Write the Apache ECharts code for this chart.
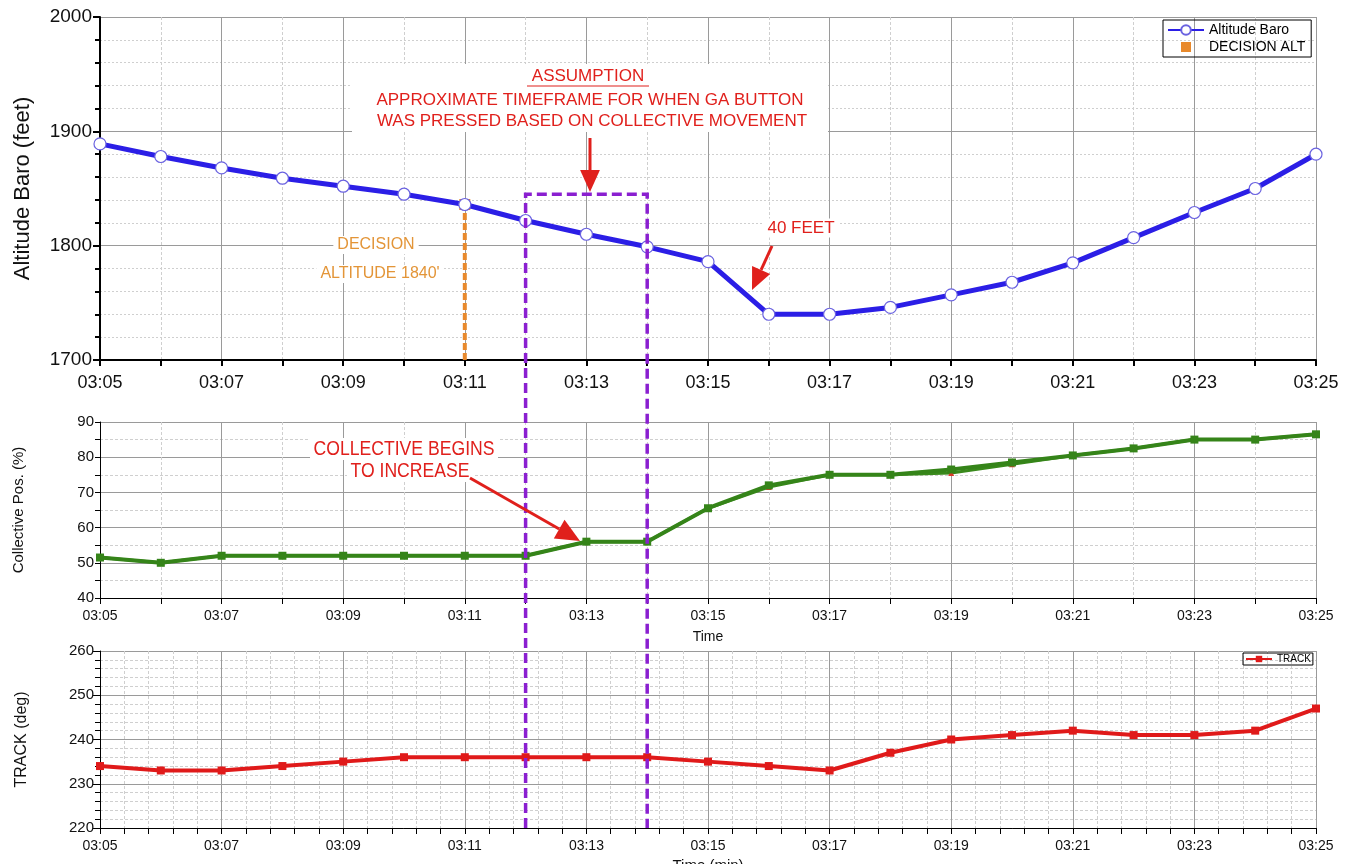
<!DOCTYPE html>
<html>
<head>
<meta charset="utf-8">
<script src="https://cdn.jsdelivr.net/npm/echarts@6/dist/echarts.min.js"></script>
<style>
html, body { margin: 0; background: #fff; }
#main { width: 1360px; height: 864px; }
</style>
</head>
<body>
<div id="main"></div>
<script>
var times = ["03:05", "03:06", "03:07", "03:08", "03:09", "03:10", "03:11", "03:12", "03:13", "03:14",
  "03:15", "03:16", "03:17", "03:18", "03:19", "03:20", "03:21", "03:22", "03:23", "03:24", "03:25"];
var altitude = [1889, 1878, 1868, 1859, 1852, 1845, 1836, 1822, 1810, 1799,
  1786, 1740, 1740, 1746, 1757, 1768, 1785, 1807, 1829, 1850, 1880];
var collective = [51.5, 50, 52, 52, 52, 52, 52, 52, 56, 56,
  65.5, 72, 75, 75, 76.5, 78.5, 80.5, 82.5, 85, 85, 86.5];
var collective2 = [51.5, 50, 52, 52, 52, 52, 52, 52, 56, 56,
  65.5, 71.5, 75, 75, 75.5, 78, 80.5, 82.5, 85, 85, 86.5];
var track = [234, 233, 233, 234, 235, 236, 236, 236, 236, 236,
  235, 234, 233, 237, 240, 241, 242, 241, 241, 242, 247];
var decisionTime = "03:11";
var decisionAlt = 1836;
var decisionBase = 1700;
var gaStart = "03:12";
var gaEnd = "03:14";
var gaTopAlt = 1845;

var FONT = "Liberation Sans, Arial, sans-serif";
var NARROW = "Liberation Sans Narrow, Arial Narrow, Liberation Sans, sans-serif";

function toMin(t) {
  var p = t.split(":");
  return (+p[0]) * 60 + (+p[1]);
}
var t0 = toMin(times[0]);
function xOf(t) { return toMin(t) - t0; }
function fmtTime(v) {
  var m = t0 + v;
  var h = Math.floor(m / 60), mm = m % 60;
  return (h < 10 ? "0" : "") + h + ":" + (mm < 10 ? "0" : "") + mm;
}
function plain(v) { return String(v); }
function pairs(vals) {
  return vals.map(function (v, i) { return [xOf(times[i]), v]; });
}

var chart = echarts.init(document.getElementById("main"));

function xAxisFor(grid, fontSize, font, minorSplit, lineW, margin) {
  return {
    type: "value",
    gridIndex: grid,
    min: 0,
    max: xOf(times[times.length - 1]),
    interval: 2,
    axisLine: { lineStyle: { color: "#000", width: lineW } },
    axisTick: { length: 6, lineStyle: { color: "#000", width: lineW > 1 ? 2 : 1 } },
    minorTick: { show: true, splitNumber: minorSplit, length: 6, lineStyle: { color: "#000", width: lineW > 1 ? 2 : 1 } },
    splitLine: { lineStyle: { color: "#9a9a9a", width: 1 } },
    minorSplitLine: { show: true, lineStyle: { color: "#cfcfcf", type: [3, 2], width: 1 } },
    axisLabel: {
      formatter: fmtTime,
      fontSize: fontSize,
      fontFamily: font,
      color: "#111",
      margin: margin
    }
  };
}

var option = {
  backgroundColor: "#fff",
  animation: false,
  grid: [
    { left: 100, top: 17, width: 1216, height: 343, outerBoundsMode: "none" },
    { left: 100, top: 422, width: 1216, height: 176, outerBoundsMode: "none" },
    { left: 100, top: 651, width: 1216, height: 177, outerBoundsMode: "none" }
  ],
  legend: [
    {
      left: 1163, top: 20,
      orient: "vertical",
      borderColor: "#000", borderWidth: 1,
      padding: [3, 6, 3, 4], itemGap: 3,
      itemWidth: 36, itemHeight: 12,
      textStyle: { fontSize: 14, fontFamily: FONT, color: "#000" },
      data: [
        { name: "Altitude Baro" },
        { name: "DECISION ALT", icon: "path://M0,0h0.01v0.01h-0.01z M13,1h10v10h-10z M35.99,11.99h0.01v0.01h-0.01z" }
      ]
    },
    {
      left: 1243, top: 653,
      borderColor: "#000", borderWidth: 1,
      padding: [1, 2, 1, 2],
      itemWidth: 26, itemHeight: 8,
      textStyle: { fontSize: 10, fontFamily: NARROW, color: "#000" },
      data: ["TRACK"]
    }
  ],
  xAxis: [
    xAxisFor(0, 18, FONT, 2, 2, 14),
    Object.assign(xAxisFor(1, 14, NARROW, 2, 1, 11), {
      name: "Time", nameLocation: "middle", nameGap: 32,
      nameTextStyle: { fontSize: 14, fontFamily: NARROW, color: "#111" }
    }),
    Object.assign(xAxisFor(2, 14, NARROW, 5, 1, 11), {
      name: "Time (min)", nameLocation: "middle", nameGap: 30,
      nameTextStyle: { fontSize: 15, fontFamily: NARROW, color: "#111" }
    })
  ],
  yAxis: [
    {
      type: "value", gridIndex: 0, min: 1700, max: 2000, interval: 100,
      name: "Altitude Baro (feet)", nameLocation: "middle", nameGap: 66,
      nameTextStyle: { fontSize: 22, fontFamily: FONT, color: "#111" },
      axisLine: { show: true, lineStyle: { color: "#000", width: 2 } },
      axisTick: { show: true, length: 7, lineStyle: { color: "#000", width: 2 } },
      minorTick: { show: true, splitNumber: 5, length: 5, lineStyle: { color: "#000", width: 2 } },
      splitLine: { lineStyle: { color: "#9a9a9a" } },
      minorSplitLine: { show: true, lineStyle: { color: "#cfcfcf", type: [2, 2] } },
      axisLabel: { formatter: plain, fontSize: 19, fontFamily: FONT, color: "#111", margin: 8 }
    },
    {
      type: "value", gridIndex: 1, min: 40, max: 90, interval: 10,
      name: "Collective Pos. (%)", nameLocation: "middle", nameGap: 74,
      nameTextStyle: { fontSize: 15, fontFamily: FONT, color: "#111" },
      axisLine: { show: true, lineStyle: { color: "#000" } },
      axisTick: { show: true, length: 5, lineStyle: { color: "#000" } },
      minorTick: { show: true, splitNumber: 2, length: 5, lineStyle: { color: "#000" } },
      splitLine: { lineStyle: { color: "#9a9a9a" } },
      minorSplitLine: { show: true, lineStyle: { color: "#cfcfcf", type: [3, 2] } },
      axisLabel: { formatter: plain, fontSize: 15, fontFamily: NARROW, color: "#111", margin: 6 }
    },
    {
      type: "value", gridIndex: 2, min: 220, max: 260, interval: 10,
      name: "TRACK (deg)", nameLocation: "middle", nameGap: 70,
      nameTextStyle: { fontSize: 16, fontFamily: FONT, color: "#111" },
      axisLine: { show: true, lineStyle: { color: "#000" } },
      axisTick: { show: true, length: 7, lineStyle: { color: "#000" } },
      minorTick: { show: true, splitNumber: 5, length: 5, lineStyle: { color: "#000" } },
      splitLine: { lineStyle: { color: "#9a9a9a" } },
      minorSplitLine: { show: true, lineStyle: { color: "#cfcfcf", type: [3, 2] } },
      axisLabel: { formatter: plain, fontSize: 15, fontFamily: NARROW, color: "#111", margin: 6 }
    }
  ],
  series: [
    {
      name: "DECISION ALT", type: "line", xAxisIndex: 0, yAxisIndex: 0,
      data: [
        { value: [xOf(decisionTime), decisionBase], symbol: "none" },
        { value: [xOf(decisionTime), decisionAlt], symbol: "rect", symbolSize: 11 }
      ],
      lineStyle: { color: "#e8892c", width: 4, type: [7, 3] },
      itemStyle: { color: "#e8892c" },
      z: 3
    },
    {
      name: "Altitude Baro", type: "line", xAxisIndex: 0, yAxisIndex: 0,
      data: pairs(altitude),
      symbol: "circle", symbolSize: 12, showAllSymbol: true,
      lineStyle: { color: "#2b1ee6", width: 5 },
      itemStyle: { color: "#fff", borderColor: "#6a62e0", borderWidth: 1.2 },
      z: 4
    },
    {
      name: "Collective 2", type: "line", xAxisIndex: 1, yAxisIndex: 1,
      data: pairs(collective2),
      symbol: "triangle", symbolSize: 6,
      lineStyle: { color: "#3a8a1c", width: 3 },
      itemStyle: { color: "#d83a2a" },
      z: 3
    },
    {
      name: "Collective Pos", type: "line", xAxisIndex: 1, yAxisIndex: 1,
      data: pairs(collective),
      symbol: "rect", symbolSize: 8,
      lineStyle: { color: "#358419", width: 4 },
      itemStyle: { color: "#358419" },
      z: 4
    },
    {
      name: "TRACK", type: "line", xAxisIndex: 2, yAxisIndex: 2,
      data: pairs(track),
      symbol: "rect", symbolSize: 8,
      lineStyle: { color: "#e01a1a", width: 4 },
      itemStyle: { color: "#e01a1a" },
      z: 4
    }
  ]
};
chart.setOption(option);

// annotations
var RED = "#e0201c";
function arrow(x1, y1, x2, y2, w, head) {
  var a = Math.atan2(y2 - y1, x2 - x1);
  var bx = x2 - head * Math.cos(a), by = y2 - head * Math.sin(a);
  var px = Math.sin(a) * head * 0.45, py = -Math.cos(a) * head * 0.45;
  return [
    { type: "line", z: 20, shape: { x1: x1, y1: y1, x2: bx, y2: by }, style: { stroke: RED, lineWidth: w } },
    { type: "polygon", z: 20, shape: { points: [[x2, y2], [bx + px, by + py], [bx - px, by - py]] }, style: { fill: RED } }
  ];
}
function label(text, x, y, size, color, font, sx) {
  return {
    type: "text", z: 15, x: x, y: y, scaleX: sx || 1,
    style: {
      text: text, fill: color, font: size + "px " + (font || FONT),
      align: "center", verticalAlign: "middle",
      backgroundColor: "#fff", padding: [1, 4]
    }
  };
}

var pA = chart.convertToPixel({ gridIndex: 0 }, [xOf(gaStart), gaTopAlt]);
var pB = chart.convertToPixel({ gridIndex: 0 }, [xOf(gaEnd), gaTopAlt]);
var pBot = chart.convertToPixel({ gridIndex: 2 }, [xOf(gaStart), 220]);
var PURPLE = "#8a1fd0";

var g = [
  { type: "rect", z: 14, shape: { x: 352, y: 64, width: 476, height: 68 }, style: { fill: "#fff" } },
  label("ASSUMPTION", 588, 76, 17, RED),
  { type: "line", z: 16, shape: { x1: 527, y1: 86, x2: 649, y2: 86 }, style: { stroke: RED, lineWidth: 1.2 } },
  label("APPROXIMATE TIMEFRAME FOR WHEN GA BUTTON", 590, 100, 17, RED),
  label("WAS PRESSED BASED ON COLLECTIVE MOVEMENT", 592, 121, 17, RED),
  label("40 FEET", 801, 228, 17, RED),
  label("DECISION", 376, 245, 16, "#e39538"),
  label("ALTITUDE 1840'", 380, 274, 16, "#e39538"),
  label("COLLECTIVE BEGINS", 404, 449, 20, RED, NARROW, 0.88),
  label("TO INCREASE", 410, 471, 20, RED, NARROW, 0.88),
  {
    type: "polyline", z: 12,
    shape: { points: [[pA[0], pBot[1]], [pA[0], pA[1]], [pB[0], pB[1]], [pB[0], pBot[1]]] },
    style: { stroke: PURPLE, lineWidth: 3.5, lineDash: [10, 5], fill: null }
  }
];
g = g.concat(arrow(590, 138, 590, 192, 3, 22));
g = g.concat(arrow(772, 246, 752, 290, 3, 22));
g = g.concat(arrow(470, 478, 580, 541, 3, 24));

chart.setOption({ graphic: g });
</script>
</body>
</html>
